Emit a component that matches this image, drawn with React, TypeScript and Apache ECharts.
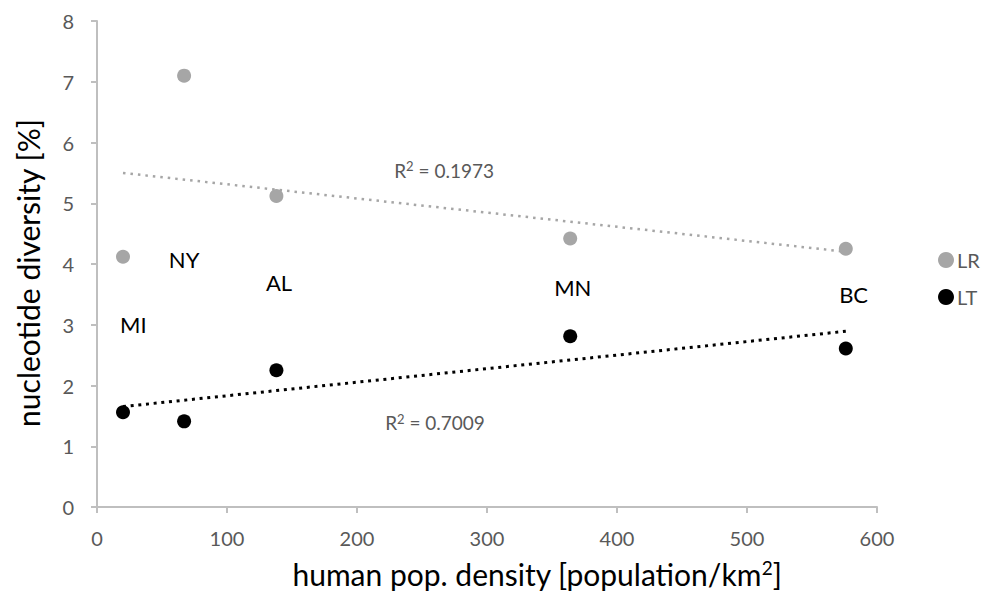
import React, { useEffect, useRef } from "react";
import * as echarts from "echarts";

// Sites and their human population density (population/km²)
const sites = ["MI", "NY", "AL", "MN", "BC"];
const density = [20, 67, 138, 364, 576];
// Nucleotide diversity (%) per lineage
const lrDiversity = [4.12, 7.1, 5.12, 4.42, 4.25];
const ltDiversity = [1.56, 1.41, 2.25, 2.81, 2.61];
// Site-name label anchor positions in data units
const siteLabelX = [28, 67, 140, 366, 582];
const siteLabelY = [3.0, 4.07, 3.69, 3.62, 3.5];
// R² annotations: value text and anchor
const r2Values = ["0.1973", "0.7009"];
const r2X = [267, 260];
const r2Y = [5.54, 1.39];
// Axis titles
const xTitle = "human pop. density [population/km{sup|2}]";
const yTitle = "nucleotide diversity [%]";

const FONT = "Lato, 'Open Sans', sans-serif";

// Least-squares fit evaluated at the lowest and highest density
function fitLine(xs: number[], ys: number[]): number[][] {
  const n = xs.length;
  const mx = xs.reduce((a, b) => a + b, 0) / n;
  const my = ys.reduce((a, b) => a + b, 0) / n;
  let sxy = 0;
  let sxx = 0;
  for (let i = 0; i < n; i++) {
    sxy += (xs[i] - mx) * (ys[i] - my);
    sxx += (xs[i] - mx) * (xs[i] - mx);
  }
  const slope = sxy / sxx;
  const icpt = my - slope * mx;
  const x0 = Math.min(...xs);
  const x1 = Math.max(...xs);
  return [
    [x0, icpt + slope * x0],
    [x1, icpt + slope * x1],
  ];
}

export default function App() {
  const ref = useRef<HTMLDivElement>(null);

  useEffect(() => {
    if (!ref.current) return;
    const chart = echarts.init(ref.current, null, { renderer: "svg" });
    const lrPts = density.map((x, i) => [x, lrDiversity[i]]);
    const ltPts = density.map((x, i) => [x, ltDiversity[i]]);

    chart.setOption({
      animation: false,
      textStyle: { fontFamily: FONT },
      grid: { left: 97, top: 21, right: 106, bottom: 84, containLabel: false, outerBoundsMode: "none" },
      legend: {
        orient: "vertical",
        left: 933,
        top: 245,
        itemGap: 17,
        itemWidth: 16,
        itemHeight: 16,
        textStyle: { color: "#595959", fontSize: 20, fontFamily: FONT, padding: [0, 0, 0, -2] },
        data: [
          { name: "LR", icon: "circle" },
          { name: "LT", icon: "circle" },
        ],
      },
      graphic: [
        {
          type: "text",
          x: 537,
          y: 574,
          style: {
            text: xTitle,
            fill: "#000",
            font: `30px ${FONT}`,
            align: "center",
            verticalAlign: "middle",
            rich: { sup: { fontSize: 19, verticalAlign: "top", padding: [0, 0, 14, 0], fill: "#000", fontFamily: FONT } },
          },
        },
        {
          type: "text",
          x: 28,
          y: 273,
          rotation: Math.PI / 2,
          style: {
            text: yTitle,
            fill: "#000",
            font: `30px ${FONT}`,
            align: "center",
            verticalAlign: "middle",
          },
        },
      ],
      xAxis: {
        type: "value",
        min: 0,
        max: 600,
        interval: 100,
        axisLine: { lineStyle: { color: "#bfbfbf", width: 2 } },
        axisTick: { show: true, length: 6, inside: false, lineStyle: { color: "#bfbfbf", width: 2 } },
        axisLabel: { color: "#595959", fontSize: 20, margin: 21, fontFamily: FONT },
        splitLine: { show: false },
      },
      yAxis: {
        type: "value",
        min: 0,
        max: 8,
        interval: 1,
        axisLine: { show: true, lineStyle: { color: "#bfbfbf", width: 2 } },
        axisTick: { show: true, length: 6, lineStyle: { color: "#bfbfbf", width: 2 } },
        axisLabel: { color: "#595959", fontSize: 20, margin: 23, fontFamily: FONT },
        splitLine: { show: false },
      },
      series: [
        {
          name: "LR",
          type: "scatter",
          symbol: "circle",
          symbolSize: 14,
          itemStyle: { color: "#a6a6a6", opacity: 1 },
          data: lrPts,
          z: 3,
        },
        {
          name: "LT",
          type: "scatter",
          symbol: "circle",
          symbolSize: 14,
          itemStyle: { color: "#000000", opacity: 1 },
          data: ltPts,
          z: 3,
        },
        {
          name: "LR trend",
          type: "line",
          data: fitLine(density, lrDiversity),
          showSymbol: false,
          symbol: "none",
          lineStyle: { color: "#a6a6a6", width: 2.5, type: [2.5, 5] },
          silent: true,
          z: 2,
        },
        {
          name: "LT trend",
          type: "line",
          data: fitLine(density, ltDiversity),
          showSymbol: false,
          symbol: "none",
          lineStyle: { color: "#000000", width: 3, type: [3, 4.7] },
          silent: true,
          z: 2,
        },
        {
          name: "site names",
          type: "scatter",
          symbolSize: 0,
          silent: true,
          itemStyle: { opacity: 1 },
          data: sites.map((s, i) => ({ value: [siteLabelX[i], siteLabelY[i]], name: s })),
          label: {
            show: true,
            position: "inside",
            formatter: (p: any) => p.name,
            color: "#000",
            fontSize: 22,
            fontFamily: FONT,
          },
          z: 4,
        },
        {
          name: "r2",
          type: "scatter",
          symbolSize: 0,
          silent: true,
          itemStyle: { opacity: 1 },
          data: r2Values.map((t, i) => ({ value: [r2X[i], r2Y[i]], name: t })),
          label: {
            show: true,
            position: "inside",
            formatter: (p: any) => "R{sup|2} = " + p.name,
            color: "#595959",
            fontSize: 19,
            fontFamily: FONT,
            rich: { sup: { fontSize: 13, verticalAlign: "top", padding: [0, 0, 8, 0], color: "#595959", fontFamily: FONT } },
          },
          z: 4,
        },
      ],
    });

    return () => chart.dispose();
  }, []);

  return <div ref={ref} style={{ width: 983, height: 591, position: "absolute", left: 0, top: 0 }} />;
}
